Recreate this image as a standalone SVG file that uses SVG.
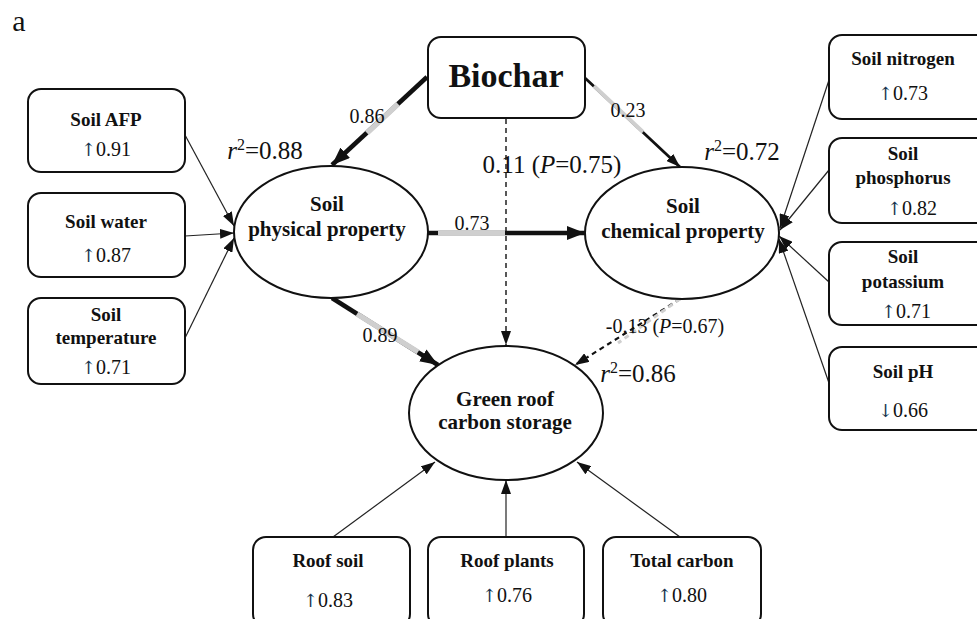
<svg xmlns="http://www.w3.org/2000/svg" width="977" height="619" viewBox="0 0 977 619">
<style>
.box{fill:#fff;stroke:#111;stroke-width:2}
.ell{fill:#fff;stroke:#111;stroke-width:2}
.t{font-family:"Liberation Serif","Times New Roman",serif;fill:#111;text-anchor:middle}
.bt{font-weight:bold;font-size:19px}
.v{font-size:20px}
.ar{font-family:"DejaVu Serif",serif;fill:#1a3550;font-size:18px}
.et{font-weight:bold;font-size:21px}
.lbl{font-size:20px}
.big{font-size:25px}
.thin{stroke:#222;stroke-width:1.2;fill:none}
.thick{stroke:#111;stroke-width:4.5;fill:none}
.med{stroke:#111;stroke-width:2.8;fill:none}
.gray{stroke:#cfcfcf;fill:none}
.dash{stroke:#111;stroke-width:1.4;stroke-dasharray:5,4;fill:none}
</style>
<defs>
<marker id="ah" markerUnits="userSpaceOnUse" viewBox="0 0 14 10" markerWidth="14" markerHeight="10" refX="14" refY="5" orient="auto"><path d="M0,0 L14,5 L0,10 z" fill="#111"/></marker>
<marker id="ahb" markerUnits="userSpaceOnUse" viewBox="0 0 18 14" markerWidth="18" markerHeight="14" refX="18" refY="7" orient="auto"><path d="M0,0 L18,7 L0,14 z" fill="#111"/></marker>
</defs>
<rect width="977" height="619" fill="#fff"/>
<text class="t" x="19" y="31" style="font-size:30px">a</text>

<g id="connectors">
  <line class="thick" x1="427" y1="77" x2="332" y2="165" marker-end="url(#ahb)"/>
  <line class="gray" style="stroke-width:5.5" x1="398" y1="104" x2="367" y2="133"/>
  <line class="med" x1="585" y1="78" x2="680" y2="167" marker-end="url(#ah)"/>
  <line class="gray" style="stroke-width:3.8" x1="594" y1="86" x2="643" y2="132"/>
  <line class="dash" x1="506" y1="119" x2="506" y2="345" marker-end="url(#ah)"/>
  <line class="thick" x1="428" y1="233" x2="585" y2="233" marker-end="url(#ahb)"/>
  <line class="gray" style="stroke-width:5.5" x1="438" y1="233" x2="505" y2="233"/>
  <line class="thick" x1="332" y1="298" x2="438" y2="365" marker-end="url(#ahb)"/>
  <line class="gray" style="stroke-width:5.5" x1="357" y1="314" x2="418" y2="352"/>
  <line class="dash" style="stroke-width:2.2" x1="680" y1="299" x2="575" y2="365" marker-end="url(#ah)"/>
  <line class="gray" style="stroke-width:3;stroke-dasharray:5,4" x1="680" y1="299" x2="618" y2="343"/>
  <line class="thin" x1="185" y1="135" x2="234" y2="226" marker-end="url(#ah)"/>
  <line class="thin" x1="185" y1="236" x2="234" y2="233" marker-end="url(#ah)"/>
  <line class="thin" x1="185" y1="338" x2="234" y2="238" marker-end="url(#ah)"/>
  <line class="thin" x1="829" y1="80" x2="780" y2="228" marker-end="url(#ah)"/>
  <line class="thin" x1="829" y1="170" x2="780" y2="230" marker-end="url(#ah)"/>
  <line class="thin" x1="829" y1="282" x2="779" y2="236" marker-end="url(#ah)"/>
  <line class="thin" x1="829" y1="383" x2="779" y2="239" marker-end="url(#ah)"/>
  <line class="thin" x1="333" y1="537" x2="435" y2="462" marker-end="url(#ah)"/>
  <line class="thin" x1="506" y1="536" x2="506" y2="480" marker-end="url(#ah)"/>
  <line class="thin" x1="680" y1="537" x2="577" y2="462" marker-end="url(#ah)"/>
</g>

<g id="labels">
  <text class="t lbl" x="367" y="123">0.86</text>
  <text class="t lbl" x="628" y="117">0.23</text>
  <text class="t lbl" x="472" y="230">0.73</text>
  <text class="t lbl" x="380" y="342">0.89</text>
  <text class="t lbl" x="665" y="333">-0.13 (<tspan font-style="italic">P</tspan>=0.67)</text>
  <text class="t big" x="552" y="173">0.11 (<tspan font-style="italic">P</tspan>=0.75)</text>
  <text class="t big" x="265" y="159"><tspan font-style="italic">r</tspan><tspan font-size="16" dy="-9">2</tspan><tspan dy="9">=0.88</tspan></text>
  <text class="t big" x="742" y="160"><tspan font-style="italic">r</tspan><tspan font-size="16" dy="-9">2</tspan><tspan dy="9">=0.72</tspan></text>
  <text class="t big" x="638" y="382"><tspan font-style="italic">r</tspan><tspan font-size="16" dy="-9">2</tspan><tspan dy="9">=0.86</tspan></text>
</g>

<g id="biochar">
  <rect class="box" x="428" y="37" width="157" height="81" rx="13"/>
  <text class="t" x="506" y="87" style="font-size:34px;font-weight:bold">Biochar</text>
</g>

<g id="soil-physical">
  <ellipse class="ell" cx="331" cy="232" rx="97" ry="66"/>
  <text class="t et" x="327" y="211">Soil</text>
  <text class="t et" x="327" y="236">physical property</text>
</g>
<g id="soil-chemical">
  <ellipse class="ell" cx="682" cy="233" rx="97" ry="66"/>
  <text class="t et" x="683" y="213">Soil</text>
  <text class="t et" x="683" y="238">chemical property</text>
</g>
<g id="green-roof">
  <ellipse class="ell" cx="506" cy="413" rx="97" ry="67"/>
  <text class="t et" x="505" y="406">Green roof</text>
  <text class="t et" x="505" y="429">carbon storage</text>
</g>

<g id="soil-afp">
  <rect class="box" x="28" y="89" width="157" height="83" rx="13"/>
  <text class="t bt" x="106" y="126">Soil AFP</text>
  <text class="t v" x="106" y="156"><tspan class="ar">↑</tspan>0.91</text>
</g>
<g id="soil-water">
  <rect class="box" x="28" y="193" width="157" height="84" rx="13"/>
  <text class="t bt" x="106" y="228">Soil water</text>
  <text class="t v" x="106" y="262"><tspan class="ar">↑</tspan>0.87</text>
</g>
<g id="soil-temperature">
  <rect class="box" x="28" y="298" width="157" height="86" rx="13"/>
  <text class="t bt" x="106" y="321">Soil</text>
  <text class="t bt" x="106" y="344">temperature</text>
  <text class="t v" x="106" y="374"><tspan class="ar">↑</tspan>0.71</text>
</g>

<g id="soil-nitrogen">
  <rect class="box" x="829" y="35" width="160" height="84" rx="13"/>
  <text class="t bt" x="903" y="65">Soil nitrogen</text>
  <text class="t v" x="903" y="100"><tspan class="ar">↑</tspan>0.73</text>
</g>
<g id="soil-phosphorus">
  <rect class="box" x="829" y="138" width="160" height="85" rx="13"/>
  <text class="t bt" x="903" y="160">Soil</text>
  <text class="t bt" x="903" y="184">phosphorus</text>
  <text class="t v" x="912" y="215"><tspan class="ar">↑</tspan>0.82</text>
</g>
<g id="soil-potassium">
  <rect class="box" x="829" y="242" width="160" height="83" rx="13"/>
  <text class="t bt" x="903" y="263">Soil</text>
  <text class="t bt" x="903" y="288">potassium</text>
  <text class="t v" x="906" y="318"><tspan class="ar">↑</tspan>0.71</text>
</g>
<g id="soil-ph">
  <rect class="box" x="829" y="347" width="160" height="83" rx="13"/>
  <text class="t bt" x="903" y="378">Soil pH</text>
  <text class="t v" x="903" y="417"><tspan class="ar">↓</tspan>0.66</text>
</g>

<g id="roof-soil">
  <rect class="box" x="253" y="537" width="157" height="90" rx="13"/>
  <text class="t bt" x="328" y="567">Roof  soil</text>
  <text class="t v" x="328" y="607"><tspan class="ar">↑</tspan>0.83</text>
</g>
<g id="roof-plants">
  <rect class="box" x="428" y="537" width="156" height="90" rx="13"/>
  <text class="t bt" x="507" y="567">Roof  plants</text>
  <text class="t v" x="507" y="602"><tspan class="ar">↑</tspan>0.76</text>
</g>
<g id="total-carbon">
  <rect class="box" x="603" y="537" width="158" height="90" rx="13"/>
  <text class="t bt" x="682" y="567">Total carbon</text>
  <text class="t v" x="682" y="602"><tspan class="ar">↑</tspan>0.80</text>
</g>
</svg>
